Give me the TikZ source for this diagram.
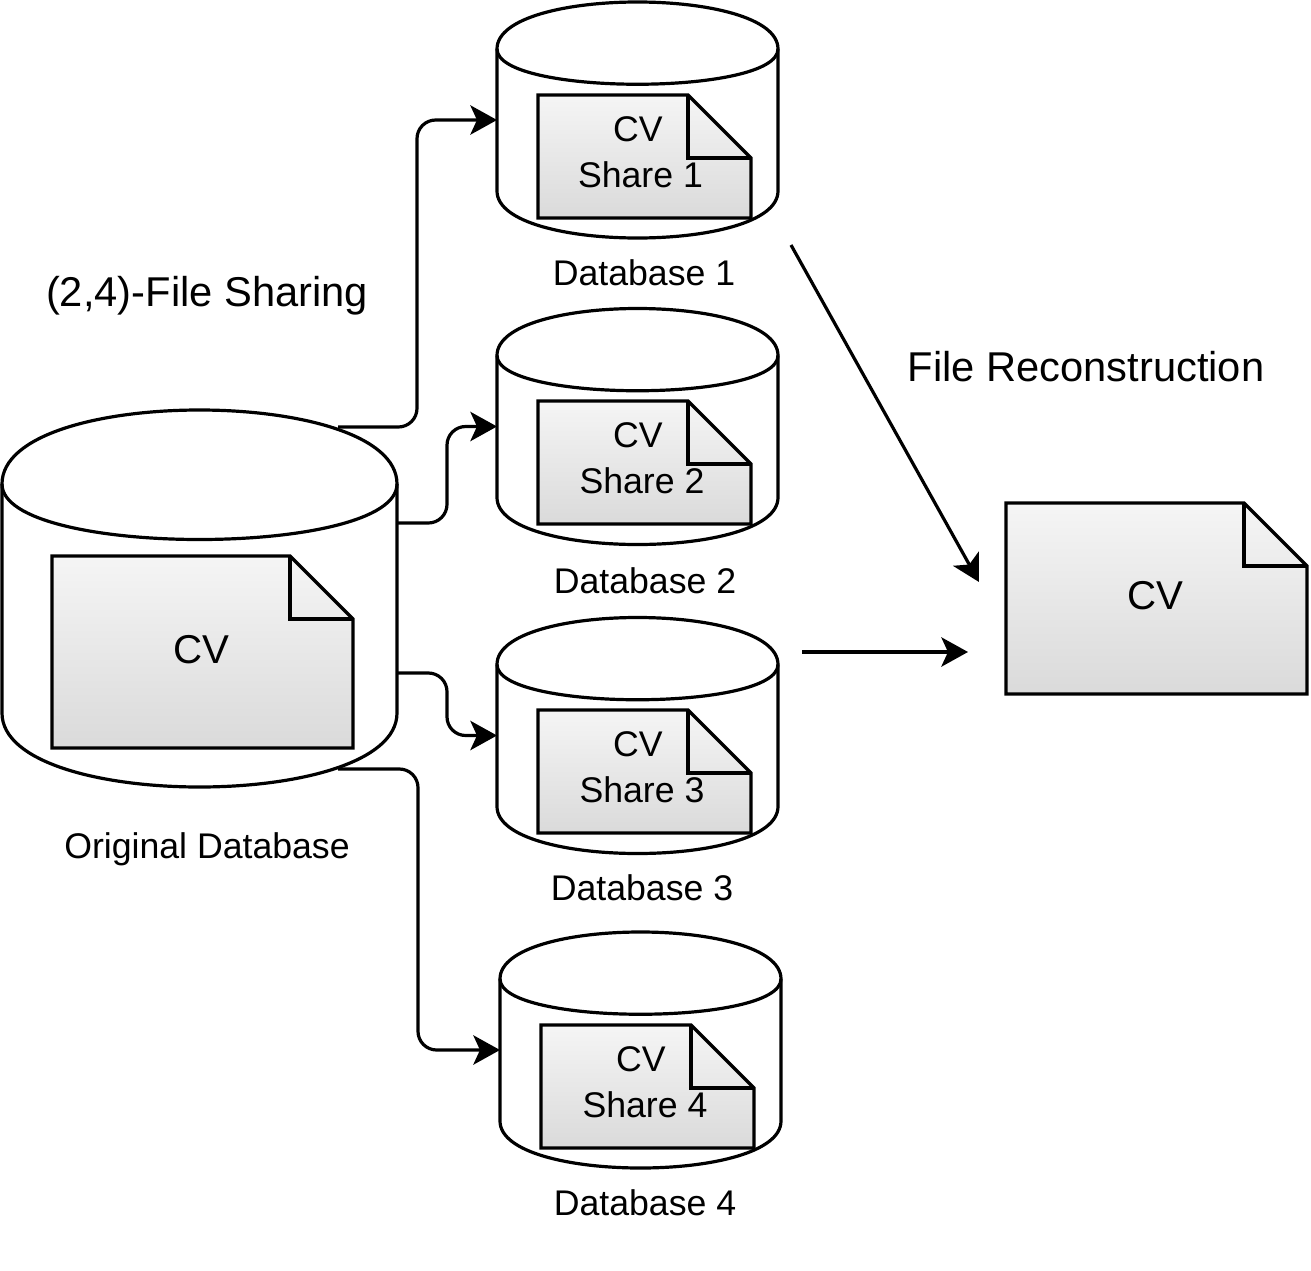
\documentclass[tikz,border=0pt]{standalone}
\usepackage{fontspec}
\setmainfont{Liberation Sans}
\usetikzlibrary{arrows.meta}
\newcommand{\fsmall}{\fontsize{26.75pt}{30pt}\selectfont}
\newcommand{\fbig}{\fontsize{31.25pt}{36pt}\selectfont}
\newcommand{\fcv}{\fontsize{30.2pt}{36pt}\selectfont}
% name, left, top, width, height, dy
\newcommand{\cylshape}[6]{%
  \begin{scope}[shift={(#2,#3)}]
    \draw[shapeline,fill=white] (0,#6) .. controls (0,-#6/3) and (#4,-#6/3) .. (#4,#6)
      -- (#4,#5-#6) .. controls (#4,#5+#6/3) and (0,#5+#6/3) .. (0,#5-#6) -- cycle;
    \draw[shapeline] (0,#6) .. controls (0,2*#6) and (#4,2*#6) .. (#4,#6);
    \node[boxanchor,minimum width=#4*0.75pt,minimum height=#5*0.75pt] (#1) at (#4/2,#5/2) {};
  \end{scope}}
% name, left, top, width, height, fold
\newcommand{\docshape}[6]{%
  \begin{scope}[shift={(#2,#3)}]
    \draw[shapeline,top color=docA,bottom color=docB] (0,0) -- (#4-#6,0) -- (#4,#6) -- (#4,#5) -- (0,#5) -- cycle;
    \draw[shapeline] (#4-#6,0) -- (#4-#6,#6) -- (#4,#6);
    \node[boxanchor,minimum width=#4*0.75pt,minimum height=#5*0.75pt] (#1) at (#4/2,#5/2) {};
  \end{scope}}
\definecolor{docA}{HTML}{F5F5F5}
\definecolor{docB}{HTML}{DADADA}
\tikzset{
  shapeline/.style={draw=black,line width=2.4pt,line join=miter},
  boxanchor/.style={inner sep=0pt,outer sep=0pt},
  lbl/.style={anchor=base,inner sep=0pt,text=black},
  conn/.style={draw=black,line width=2.4pt,rounded corners=14pt,
    -{Stealth[length=20pt,width=22pt,inset=5pt]}},
  freearrow/.style={draw=black,line width=2.4pt,
    -{Stealth[length=20pt,width=22pt,inset=5pt]}},
}
\begin{document}
\begin{tikzpicture}[x=0.75pt,y=-0.75pt]
\useasboundingbox (0,0) rectangle (1311,1271);
% cylinders
\cylshape{orig}{2}{410}{395}{377}{74}
\cylshape{dba}{497}{2}{281}{236}{47}
\cylshape{dbb}{497}{308.5}{281}{236}{47}
\cylshape{dbc}{497}{617.5}{281}{236}{47}
\cylshape{dbd}{500}{932}{281}{236}{47}
% documents
\docshape{origdoc}{52}{556}{301}{192}{63}
\docshape{doca}{538}{95}{213}{123}{63}
\docshape{docb}{538}{401}{213}{123}{63}
\docshape{docc}{538}{710}{213}{123}{63}
\docshape{docd}{541}{1025}{213}{123}{63}
\docshape{result}{1006}{503}{301}{191}{63}
% document texts
\node[lbl,font=\fcv] (tcvo) at (201,663) {CV};
\node[lbl,font=\fcv] (tcvr) at (1155,609) {CV};
\node[lbl,font=\fsmall] (tcva) at (638,141) {CV};
\node[lbl,font=\fsmall] (tsa) at (640.5,187) {Share 1};
\node[lbl,font=\fsmall] (tcvb) at (638,447) {CV};
\node[lbl,font=\fsmall] (tsb) at (642,493) {Share 2};
\node[lbl,font=\fsmall] (tcvc) at (638,756) {CV};
\node[lbl,font=\fsmall] (tsc) at (642,802) {Share 3};
\node[lbl,font=\fsmall] (tcvd) at (641,1071) {CV};
\node[lbl,font=\fsmall] (tsd) at (645,1117) {Share 4};
% labels
\node[lbl,font=\fsmall] (la) at (644,285) {Database 1};
\node[lbl,font=\fsmall] (lb) at (645,593) {Database 2};
\node[lbl,font=\fsmall] (lc) at (642,900) {Database 3};
\node[lbl,font=\fsmall] (ld) at (645,1215) {Database 4};
\node[lbl,font=\fsmall] (lo) at (207,858) {Original Database};
\node[lbl,font=\fbig] (lshare) at (207,306) {(2,4)-File Sharing};
\node[lbl,font=\fbig] (lrec) at (1086,381) {File Reconstruction};
% connectors
\coordinate (oa) at (338,427);
\coordinate (ob) at (397,523);
\coordinate (oc) at (397,673);
\coordinate (od) at (338,769);
\coordinate (busa) at (417,0);
\coordinate (busb) at (447,0);
\coordinate (busd) at (418,0);
\draw[conn] (oa) -- (oa -| busa) -- (busa |- dba.west) -- (dba.west);
\draw[conn] (ob) -- (ob -| busb) -- (busb |- dbb.west) -- (dbb.west);
\draw[conn] (oc) -- (oc -| busb) -- (busb |- dbc.west) -- (dbc.west);
\draw[conn] (od) -- (od -| busd) -- (busd |- dbd.west) -- (dbd.west);
\coordinate (fa) at (791,245);
\coordinate (fae) at (979,582);
\coordinate (fb) at (802,652);
\coordinate (fbe) at (968,652);
\draw[freearrow] (fa) -- (fae);
\draw[freearrow] (fb) -- (fbe);
\end{tikzpicture}
\end{document}
